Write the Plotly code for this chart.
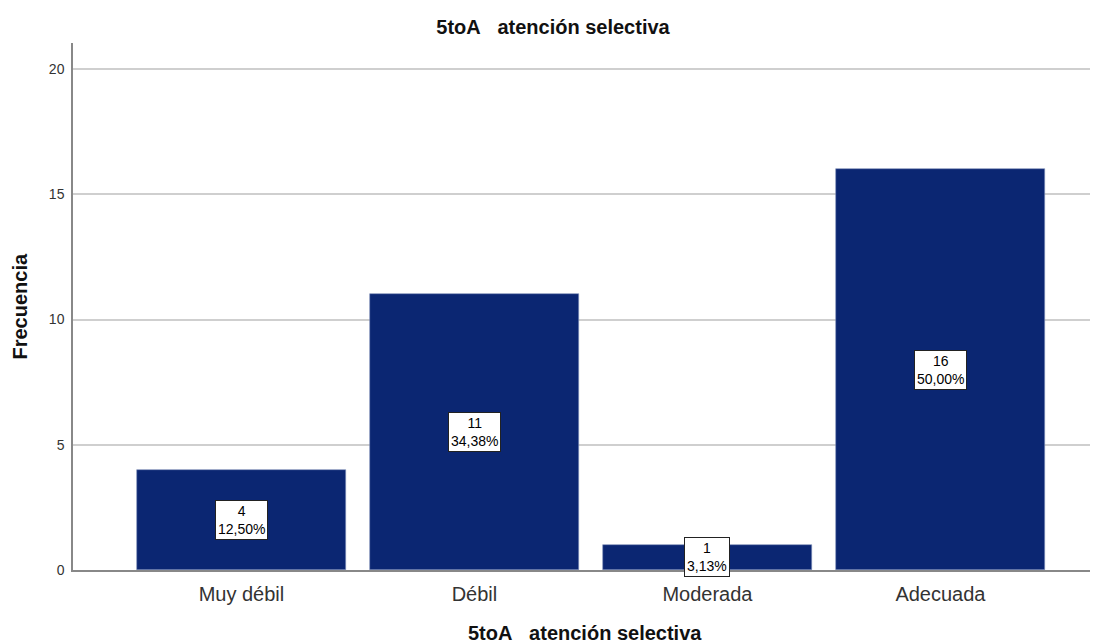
import plotly.graph_objects as go

categories = ["Muy débil", "Débil", "Moderada", "Adecuada"]
counts = [4, 11, 1, 16]
percents = ["12,50%", "34,38%", "3,13%", "50,00%"]
y_ticks = [0, 5, 10, 15, 20]

title_text = "5toA\u00a0\u00a0\u00a0atención selectiva"
y_title = "Frecuencia"

W, H = 1090, 635  # page body has an 8px default margin
FONT = "Arial, Liberation Sans"

fig = go.Figure()
fig.add_trace(go.Bar(
    x=list(range(len(categories))),
    y=counts,
    width=0.897,
    marker=dict(color="#0b2672", line=dict(color="#8090b8", width=0.6)),
    hoverinfo="skip",
))

for i, (c, p) in enumerate(zip(counts, percents)):
    fig.add_annotation(
        x=i, y=c / 2, text=f"{c}<br>{p}", showarrow=False,
        font=dict(family=FONT, size=14, color="#000"),
        bgcolor="white", bordercolor="#222", borderwidth=1, borderpad=2,
        align="center",
    )

# axis titles as annotations for precise placement
fig.add_annotation(
    xref="paper", yref="paper", x=0.5, y=0, xanchor="center", yanchor="middle",
    yshift=-63, text=f"<b>{title_text}</b>", showarrow=False,
    font=dict(family=FONT, size=20, color="#111"),
)
fig.add_annotation(
    xref="paper", yref="paper", x=0, y=0.5, xanchor="center", yanchor="middle",
    xshift=-54, textangle=-90, text=f"<b>{y_title}</b>", showarrow=False,
    font=dict(family=FONT, size=20, color="#111"),
)

fig.update_layout(
    width=W, height=H,
    margin=dict(l=65, r=1, t=35, b=73),
    paper_bgcolor="white", plot_bgcolor="white",
    showlegend=False,
    font=dict(family=FONT, color="#222"),
    title=dict(text=f"<b>{title_text}</b>", x=0.5, xanchor="center",
               y=1 - 19 / H, yanchor="middle",
               font=dict(size=20, color="#111")),
    bargap=0,
)
fig.update_xaxes(
    range=[-0.723, 3.672],
    tickmode="array", tickvals=list(range(len(categories))), ticktext=categories,
    tickfont=dict(size=20, color="#333"),
    showline=True, linecolor="#888", linewidth=1.5,
    showgrid=False, ticks="outside", ticklen=5, tickcolor="rgba(0,0,0,0)",
    zeroline=False, automargin=False,
)
fig.update_yaxes(
    range=[0, 21.04],
    tickmode="array", tickvals=y_ticks, ticktext=[str(t) for t in y_ticks],
    tickfont=dict(size=14, color="#333"),
    showline=True, linecolor="#888", linewidth=1.5,
    showgrid=True, gridcolor="#cfcfcf", gridwidth=1.5,
    ticks="outside", ticklen=4, tickcolor="rgba(0,0,0,0)",
    zeroline=False, automargin=False,
)

fig.write_html("out.html")
